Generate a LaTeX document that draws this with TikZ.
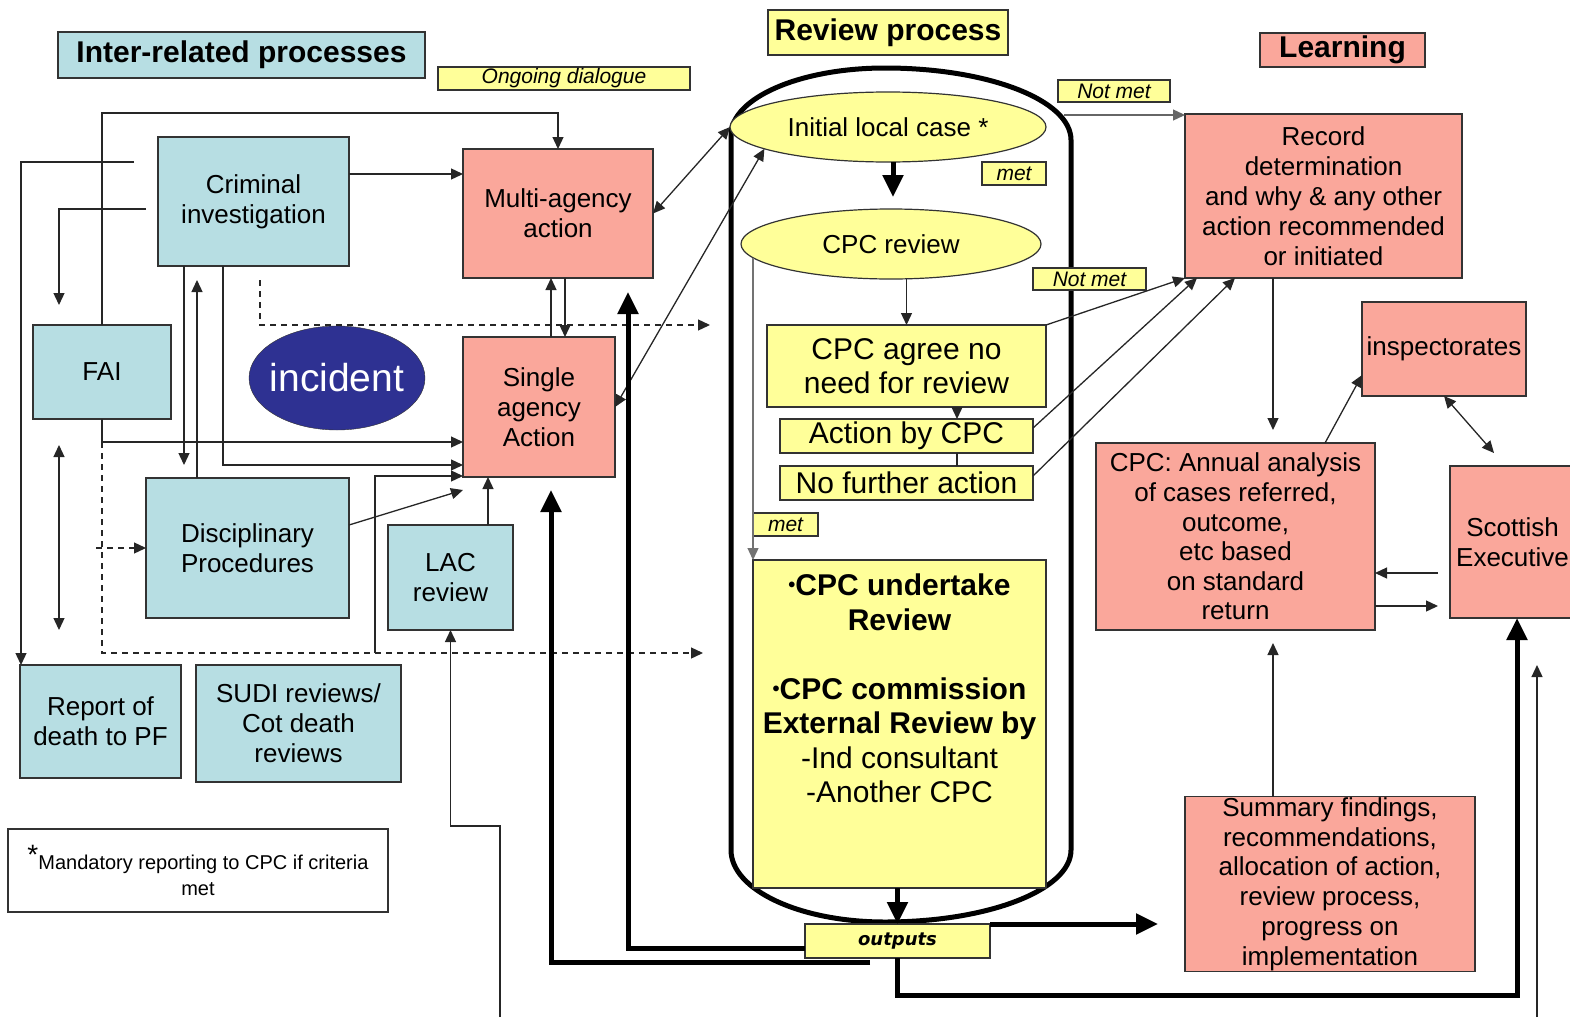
\documentclass[tikz,border=0pt]{standalone}
\usepackage{fontspec}
\setmainfont{Liberation Sans}
\newfontfamily\outfont{DejaVu Sans}
\usetikzlibrary{arrows.meta, shapes.geometric}

\definecolor{procblue}{RGB}{183,222,227}
\definecolor{learnpink}{RGB}{250,167,155}
\definecolor{revyellow}{RGB}{255,255,153}
\definecolor{incblue}{RGB}{46,49,146}

\newcommand{\dotmark}{\raisebox{4pt}{\fontsize{20}{20}\selectfont•}}

\tikzset{
    box/.style={draw=black!80, line width=1.2pt, inner sep=0pt, outer sep=0pt, align=center, font=\fontsize{26}{30}\selectfont},
    blue box/.style={box, fill=procblue},
    pink box/.style={box, fill=learnpink},
    yellow box/.style={box, fill=revyellow},
    big text/.style={font=\fontsize{30}{34}\selectfont},
    title/.style={font=\fontsize{30}{34}\selectfont\bfseries},
    tag/.style={yellow box, font=\fontsize{21}{22}\selectfont\itshape},
    oval/.style={ellipse, draw=black!80, line width=1.2pt, inner sep=0pt, outer sep=0pt, font=\fontsize{26}{30}\selectfont},
    link/.style={draw=black!85, line width=1.3pt},
    arr/.style={link, -{Triangle[length=12pt,width=11pt]}},
    dbl/.style={link, {Triangle[length=12pt,width=11pt]}-{Triangle[length=12pt,width=11pt]}},
    dash link/.style={arr, dash pattern=on 6pt off 5pt},
    heavy/.style={draw=black, line width=5pt, -{Triangle[length=22pt,width=20pt]}},
}

\begin{document}
\begin{tikzpicture}[x=1pt, y=-1pt]
    \useasboundingbox (0,0) rectangle (1570,1017);
    \clip (0,0) rectangle (1570,1017);

    % The review process capsule
    \draw[line width=5pt] (731,850) -- (731,135) .. controls (731,98) and (800,68) .. (885,68)
        .. controls (988,68) and (1071,100) .. (1071,140) -- (1071,850)
        .. controls (1071,890) and (988,922) .. (885,922)
        .. controls (800,922) and (731,890) .. (731,850) -- cycle;

    % Headings
    \node[blue box, title, minimum width=367pt, minimum height=46pt] (interHead) at (241.5,55) {Inter-related processes};
    \node[yellow box, title, minimum width=240pt, minimum height=45pt] (reviewHead) at (888,32.5) {Review process};
    \node[pink box, title, minimum width=165pt, minimum height=34pt] (learnHead) at (1342.5,50) {Learning};
    \node[tag, minimum width=252pt, minimum height=23pt] (dialogue) at (564,78.5) {Ongoing dialogue};

    % Inter-related processes
    \node[blue box, minimum width=191pt, minimum height=129pt] (crim) at (253.5,201.5) {Criminal\\investigation};
    \node[blue box, minimum width=138pt, minimum height=94pt] (fai) at (102,372) {FAI};
    \node[blue box, minimum width=203pt, minimum height=140pt] (discip) at (247.5,548) {Disciplinary\\Procedures};
    \node[blue box, minimum width=125pt, minimum height=105pt] (lac) at (450.5,577.5) {LAC\\review};
    \node[blue box, minimum width=161pt, minimum height=113pt] (report) at (100.5,721.5) {Report of\\death to PF};
    \node[blue box, minimum width=205pt, minimum height=117pt] (sudi) at (298.5,723.5) {SUDI reviews/\\Cot death\\reviews};
    \node[box, fill=white, minimum width=380pt, minimum height=83pt, font=\fontsize{20}{26}\selectfont] (note) at (198,870.5)
        {{\fontsize{28}{28}\selectfont\raisebox{5pt}{*}}Mandatory reporting to CPC if criteria\\met};
    \node[ellipse, draw=black!80, fill=incblue, text=white, inner sep=-12pt, minimum width=176pt, minimum height=104pt,
        font=\fontsize{39}{40}\selectfont] (incident) at (337,378) {incident};
    \node[pink box, minimum width=190pt, minimum height=129pt] (multi) at (558,213.5) {Multi-agency\\action};
    \node[pink box, minimum width=152pt, minimum height=140pt] (single) at (539,407) {Single\\agency\\Action};

    % Review process
    \node[oval, fill=revyellow, minimum width=316pt, minimum height=70pt] (initial) at (888,127) {Initial local case *};
    \node[oval, fill=revyellow, minimum width=300pt, minimum height=70pt] (cpcrev) at (891,244) {CPC review};
    \node[yellow box, big text, minimum width=279pt, minimum height=82pt] (agree) at (906.5,366) {CPC agree no\\need for review};
    \node[yellow box, big text, minimum width=253pt, minimum height=34pt] (actcpc) at (906.5,436) {Action by CPC};
    \node[yellow box, big text, minimum width=253pt, minimum height=34pt] (nfa) at (906.5,483) {No further action};
    \node[yellow box, minimum width=293pt, minimum height=328pt] (undertake) at (899.5,724) {};
    \node[anchor=north, align=center, inner sep=0pt, font=\fontsize{30}{34.5}\selectfont] (undertakeText) at ([yshift=-14pt]undertake.north)
        {\textbf{\dotmark CPC undertake}\\\textbf{Review}\\[34.5pt]
         \textbf{\dotmark CPC commission}\\\textbf{External Review by}\\-Ind consultant\\-Another CPC};
    \node[yellow box, minimum width=185pt, minimum height=34pt, font=\outfont\fontsize{18}{20}\selectfont\bfseries\itshape] (outputs) at (897.5,941) {outputs};
    \node[tag, minimum width=64pt, minimum height=23pt] (metA) at (1014,173.5) {met};
    \node[tag, minimum width=112pt, minimum height=22pt] (notmetA) at (1114,91) {Not met};
    \node[tag, minimum width=113pt, minimum height=22pt] (notmetB) at (1089.5,279) {Not met};
    \node[tag, minimum width=65pt, minimum height=23pt] (metB) at (785.5,524.5) {met};

    % Learning
    \node[pink box, minimum width=277pt, minimum height=164pt] (record) at (1323.5,196)
        {Record\\determination\\and why \& any other\\action recommended\\or initiated};
    \node[pink box, minimum width=164pt, minimum height=94pt] (inspect) at (1444,349) {inspectorates};
    \node[pink box, minimum width=279pt, minimum height=187pt, font=\fontsize{26}{29.6}\selectfont] (annual) at (1235.5,536.5)
        {CPC: Annual analysis\\of cases referred,\\outcome,\\etc based\\on standard\\return};
    \node[pink box, minimum width=125pt, minimum height=152pt] (scot) at (1512.5,542) {Scottish\\Executive};
    \node[pink box, minimum width=290pt, minimum height=175pt, font=\fontsize{26}{29.8}\selectfont] (summary) at (1330,884)
        {Summary findings,\\recommendations,\\allocation of action,\\review process,\\progress on\\implementation};

    % Free ends of connectors
    \coordinate (crimOutA) at (134,162);
    \coordinate (crimOutB) at (146,209);
    \coordinate (dashTop) at (260,280);
    \coordinate (dashTopEnd) at (710,325);
    \coordinate (dashLowEnd) at (703,653);
    \coordinate (dashDisc) at (96,548);
    \coordinate (lacBend) at (375,653);
    \coordinate (lacFeed) at (500,1017);
    \coordinate (capRight) at (1064,115);
    \coordinate (scotFeedA) at (1537,1017);
    \coordinate (scotFeedB) at (1537,665);

    % Links between inter-related processes
    \draw[arr] (fai.north) |- ([yshift=36pt]multi.north) -- (multi.north);
    \draw[arr] (crimOutA) -| ([xshift=1pt]report.north west);
    \draw[arr] (crimOutB) -| ([xshift=-43pt,yshift=20pt]fai.north);
    \draw[dbl] ([xshift=-43pt,yshift=-26pt]fai.south) -- ([xshift=-43pt,yshift=-211pt]fai.south);
    \draw[arr] ([yshift=27.5pt]crim.east) -- ([yshift=39.5pt]multi.west);
    \draw[arr] ([xshift=-69.5pt]crim.south) -- ++(0,199);
    \draw[arr] ([xshift=-50.5pt]discip.north) -- ++(0,-198);
    \draw[arr] ([xshift=-30.5pt]crim.south) |- ([yshift=-58pt]single.west);
    \draw[dash link] (dashTop) |- (dashTopEnd);
    \draw[arr] (fai.south) |- ([yshift=-35pt]single.west);
    \draw[dash link] ([yshift=-23pt]fai.south) |- (dashLowEnd);
    \draw[dash link] (dashDisc) -- (discip.west);
    \draw[arr] ([yshift=23pt]discip.east) -- ([yshift=-83pt]single.west);
    \draw[arr] (lacBend) |- ([yshift=-69pt]single.west);
    \draw[arr] ([xshift=37.5pt]lac.north) -- ([xshift=-51pt]single.south);
    \draw[arr] (lacFeed) |- ([yshift=-196pt]lac.south) -- (lac.south);
    \draw[arr] ([xshift=12pt]single.north) -- ([xshift=-7pt]multi.south);
    \draw[arr] ([xshift=7pt]multi.south) -- ([xshift=26pt]single.north);
    \draw[dbl] (multi.east) -- (initial.west);
    \draw[dbl] (single.east) -- (initial.190);

    % Links inside the review process
    \draw[heavy] ([xshift=5pt]initial.south) -- ++(0,35);
    \draw[arr] (cpcrev.south -| agree.north) -- (agree.north);
    \draw[arr] ([xshift=50.5pt]agree.south) -- ([xshift=50.5pt]actcpc.north);
    \draw[link] ([xshift=50.5pt]actcpc.south) -- ([xshift=50.5pt]nfa.north);
    \draw[arr, draw=black!55] (undertake.north west |- cpcrev.186) -- (undertake.north west);
    \draw[heavy] (undertake.south -| outputs.north) -- (outputs.north);

    % Outputs fed back
    \draw[heavy] ([yshift=-7pt]outputs.west) -| ([xshift=-25pt,yshift=-14pt]multi.south east);
    \draw[heavy] ([xshift=-27.5pt,yshift=-4pt]outputs.south) -| ([xshift=12pt,yshift=-13pt]single.south);
    \draw[heavy] (outputs.north east) -- ([xshift=-27pt,yshift=-40pt]summary.west);
    \draw[heavy] (outputs.south) |- ([xshift=4.5pt,yshift=-377pt]scot.south) -- ([xshift=4.5pt]scot.south);
    \draw[arr] (scotFeedA) -- (scotFeedB);

    % Links to learning
    \draw[arr, draw=black!60] (capRight) -- (capRight -| record.west);
    \draw[arr] (agree.north east) -- (record.south west);
    \draw[arr] ([yshift=8pt]actcpc.east) -- ([xshift=12pt]record.south west);
    \draw[arr] ([yshift=7pt]nfa.east) -- ([xshift=50pt]record.south west);
    \draw[arr] ([xshift=-50.5pt]record.south) -- ++(0,152);
    \draw[arr] ([xshift=89.5pt]annual.north) -- ([yshift=21pt]inspect.south west);
    \draw[dbl] (inspect.south) -- ([xshift=44pt,yshift=13pt]scot.north west);
    \draw[arr] ([xshift=-12pt,yshift=-31pt]scot.west) -- ([yshift=-36.5pt]annual.east);
    \draw[arr] ([yshift=-69.5pt]annual.east) -- ([xshift=-12pt,yshift=-64pt]scot.west);
    \draw[arr] ([xshift=-57pt]summary.north) -- ++(0,-153.5);
\end{tikzpicture}
\end{document}
